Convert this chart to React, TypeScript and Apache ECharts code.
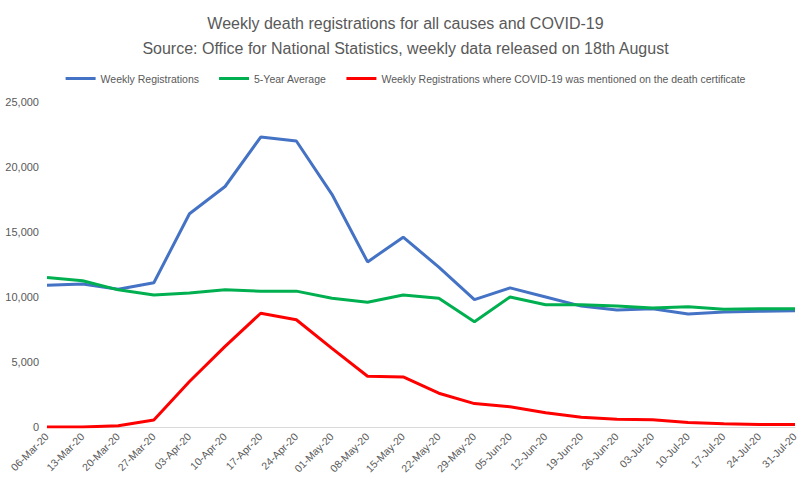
import { useEffect, useRef } from 'react';
import * as echarts from 'echarts';

const weeks = ['06-Mar-20', '13-Mar-20', '20-Mar-20', '27-Mar-20', '03-Apr-20', '10-Apr-20', '17-Apr-20', '24-Apr-20', '01-May-20', '08-May-20', '15-May-20', '22-May-20', '29-May-20', '05-Jun-20', '12-Jun-20', '19-Jun-20', '26-Jun-20', '03-Jul-20', '10-Jul-20', '17-Jul-20', '24-Jul-20', '31-Jul-20'];
const weeklyRegs = [10900, 11000, 10600, 11100, 16400, 18500, 22300, 22000, 17900, 12700, 14600, 12300, 9800, 10700, 10000, 9300, 9000, 9100, 8700, 8850, 8900, 8950];
const fiveYearAvg = [11500, 11250, 10550, 10150, 10300, 10550, 10450, 10450, 9900, 9600, 10150, 9900, 8100, 10000, 9400, 9400, 9300, 9150, 9250, 9050, 9100, 9100];
const covidRegs = [0, 5, 100, 540, 3500, 6200, 8750, 8250, 6050, 3900, 3850, 2600, 1800, 1550, 1100, 750, 600, 550, 350, 250, 200, 200];

const App = () => {
    const chartRef = useRef<HTMLDivElement>(null);

    useEffect(() => {
        if (!chartRef.current) return;
        document.body.style.margin = '0';
        const chart = echarts.init(chartRef.current, null, { renderer: 'svg' });
        const font = 'Liberation Sans, Arial, sans-serif';
        const line = (name: string, data: number[], color: string) => ({
            name, type: 'line', data, showSymbol: false, symbol: 'none',
            lineStyle: { color, width: 3 }, itemStyle: { color },
        });
        chart.setOption({
            animation: false,
            backgroundColor: '#fff',
            textStyle: { fontFamily: font },
            title: {
                text: 'Weekly death registrations for all causes and COVID-19\nSource: Office for National Statistics, weekly data released on 18th August',
                left: 'center', top: 6,
                textStyle: { fontSize: 16, fontWeight: 'normal', color: '#595959', lineHeight: 25, fontFamily: font },
            },
            legend: {
                top: 68, left: 'center', itemWidth: 30, itemHeight: 3, itemGap: 20,
                icon: 'rect',
                textStyle: { fontSize: 10.5, color: '#595959' },
            },
            grid: { left: 47, right: 16, top: 102, bottom: 65 },
            xAxis: {
                type: 'category', data: weeks, boundaryGap: false,
                axisLine: { lineStyle: { color: '#d9d9d9' } },
                axisTick: { show: false },
                axisLabel: { rotate: 45, fontSize: 10.5, color: '#595959', interval: 0 },
            },
            yAxis: {
                type: 'value', min: 0, max: 25000, interval: 5000,
                axisLabel: { fontSize: 11, color: '#595959', formatter: (v: number) => v.toLocaleString('en-GB') },
                splitLine: { show: false },
            },
            series: [
                line('Weekly Registrations', weeklyRegs, '#4472c4'),
                line('5-Year Average', fiveYearAvg, '#00b050'),
                line('Weekly Registrations where COVID-19 was mentioned on the death certificate', covidRegs, '#ff0000'),
            ],
        });
        return () => chart.dispose();
    }, []);

    return <div ref={chartRef} style={{ width: 811, height: 492 }} />;
};

export default App;
